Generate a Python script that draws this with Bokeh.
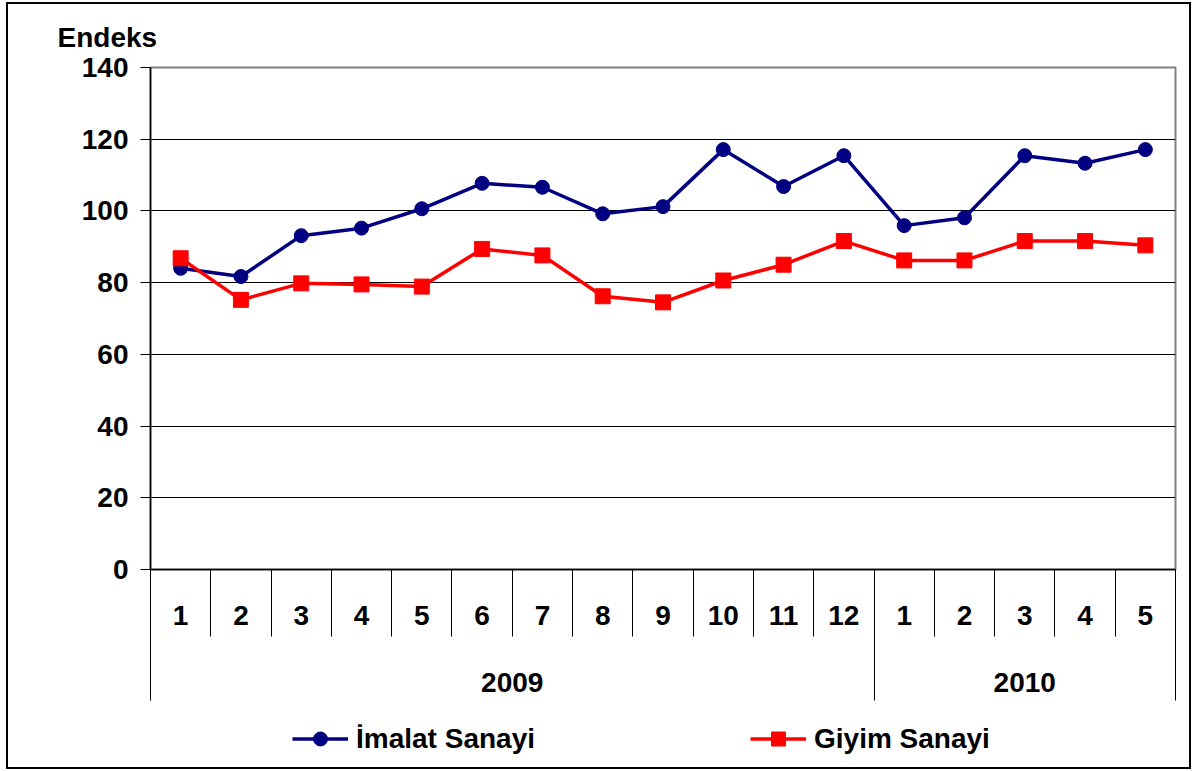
from bokeh.plotting import figure
from bokeh.layouts import column
from bokeh.models import (Range1d, FixedTicker, LinearAxis, Legend, LegendItem, Grid)
from bokeh.embed import file_html
from bokeh.resources import INLINE

# ---------------- data ----------------
months = ["1", "2", "3", "4", "5", "6", "7", "8", "9", "10", "11", "12",
          "1", "2", "3", "4", "5"]
years = ["2009"] * 12 + ["2010"] * 5
imalat = [84.0, 81.7, 93.1, 95.2, 100.6, 107.7, 106.6, 99.2, 101.2, 117.1,
          106.8, 115.4, 95.9, 98.1, 115.4, 113.3, 117.1]
giyim = [86.8, 75.2, 79.8, 79.5, 78.9, 89.4, 87.6, 76.2, 74.5, 80.6,
         85.0, 91.6, 86.2, 86.2, 91.6, 91.6, 90.4]
y_ticks = [0, 20, 40, 60, 80, 100, 120, 140]
series_names = ["İmalat Sanayi", "Giyim Sanayi"]
y_title = "Endeks"

# ---------------- derived positions ----------------
n = len(months)
xs = list(range(1, n + 1))
month_bounds = [i + 0.5 for i in range(0, n + 1)]
year_labels, year_centers, year_bounds = [], [], [0.5]
start = 0
for i in range(1, n + 1):
    if i == n or years[i] != years[start]:
        year_labels.append(years[start])
        year_centers.append((start + 1 + i) / 2.0)
        year_bounds.append(i + 0.5)
        start = i

FONT = "Liberation Sans"
FS = "28px"
BLUE = "#000080"
RED = "#FF0000"
CW = 1181

p = figure(frame_width=1025, frame_height=502,
           x_range=Range1d(0.5, n + 0.5), y_range=Range1d(y_ticks[0], y_ticks[-1]),
           output_backend="svg", toolbar_location=None,
           x_axis_type=None, y_axis_type=None,
           min_border_left=142, min_border_right=CW - 142 - 1025, min_border_top=63,
           min_border_bottom=134)
p.background_fill_color = "white"
p.border_fill_color = "white"
p.outline_line_color = "#808080"
p.outline_line_width = 2

p.title.text = y_title
p.title.align = "left"
p.title.offset = -93
p.title.standoff = 29
p.title.text_font = FONT
p.title.text_font_style = "bold"
p.title.text_font_size = FS
p.title.text_color = "black"

# y axis
yaxis = LinearAxis(ticker=FixedTicker(ticks=y_ticks, minor_ticks=[]),
                   major_tick_in=0, major_tick_out=10, minor_tick_in=0, minor_tick_out=0,
                   major_label_standoff=12, axis_line_color="black", axis_line_width=1.5,
                   major_tick_line_color="black",
                   major_label_text_font=FONT, major_label_text_font_style="bold",
                   major_label_text_font_size=FS, major_label_text_color="black")
p.add_layout(yaxis, "left")
p.add_layout(Grid(dimension=1, ticker=yaxis.ticker, grid_line_color="black",
                  grid_line_width=1))

# month axis (labels pulled back inside the separator band)
xaxis1 = LinearAxis(ticker=FixedTicker(ticks=xs, minor_ticks=month_bounds),
                    major_label_overrides={x: m for x, m in zip(xs, months)},
                    major_tick_in=0, major_tick_out=0,
                    minor_tick_in=0, minor_tick_out=67,
                    minor_tick_line_color="black",
                    axis_line_color="black", axis_line_width=1.5,
                    major_label_standoff=-31,
                    major_label_text_font=FONT, major_label_text_font_style="bold",
                    major_label_text_font_size=FS, major_label_text_color="black")
p.add_layout(xaxis1, "below")

# year axis
xaxis2 = LinearAxis(ticker=FixedTicker(ticks=year_centers, minor_ticks=year_bounds),
                    major_label_overrides={c: y for c, y in zip(year_centers, year_labels)},
                    major_tick_in=0, major_tick_out=0,
                    minor_tick_in=20, minor_tick_out=73,
                    minor_tick_line_color="black",
                    axis_line_color=None,
                    major_label_standoff=-28,
                    major_label_text_font=FONT, major_label_text_font_style="bold",
                    major_label_text_font_size=FS, major_label_text_color="black")
p.add_layout(xaxis2, "below")

# series
p.line(xs, imalat, line_color=BLUE, line_width=3.5)
p.scatter(xs, imalat, marker="circle", size=14, fill_color=BLUE, line_color=BLUE)
p.line(xs, giyim, line_color=RED, line_width=3.5)
p.scatter(xs, giyim, marker="square", size=15, fill_color=RED, line_color=RED)

# legend strip (separate small figure below the chart; its ranges keep the
# series themselves out of view, only the legend icons are shown)
pl = figure(width=CW, height=64, x_range=Range1d(-1, 0), y_range=Range1d(-1, 0),
            output_backend="svg", toolbar_location=None, title_location=None,
            x_axis_type=None, y_axis_type=None, min_border=0)
pl.outline_line_color = None
pl.grid.visible = False
g1 = pl.line(xs, imalat, line_color=BLUE, line_width=3.5)
m1 = pl.scatter(xs, imalat, marker="circle", size=14, fill_color=BLUE, line_color=BLUE)
g2 = pl.line(xs, giyim, line_color=RED, line_width=3.5)
m2 = pl.scatter(xs, giyim, marker="square", size=16, fill_color=RED, line_color=RED)
legend = Legend(items=[LegendItem(label=series_names[0], renderers=[g1, m1]),
                       LegendItem(label=series_names[1], renderers=[g2, m2])],
                orientation="horizontal", location=(142, 11),
                spacing=10, label_width=384, glyph_width=56, glyph_height=35,
                label_standoff=8,
                label_text_font=FONT, label_text_font_style="bold",
                label_text_font_size=FS, label_text_color="black",
                border_line_color=None, background_fill_alpha=0,
                padding=0, margin=0)
pl.add_layout(legend, "center")

layout = column(p, pl, spacing=0,
                styles={"border": "2px solid black", "margin": "2px 0 0 6px"})

open("out.html", "w").write(file_html(layout, INLINE))
